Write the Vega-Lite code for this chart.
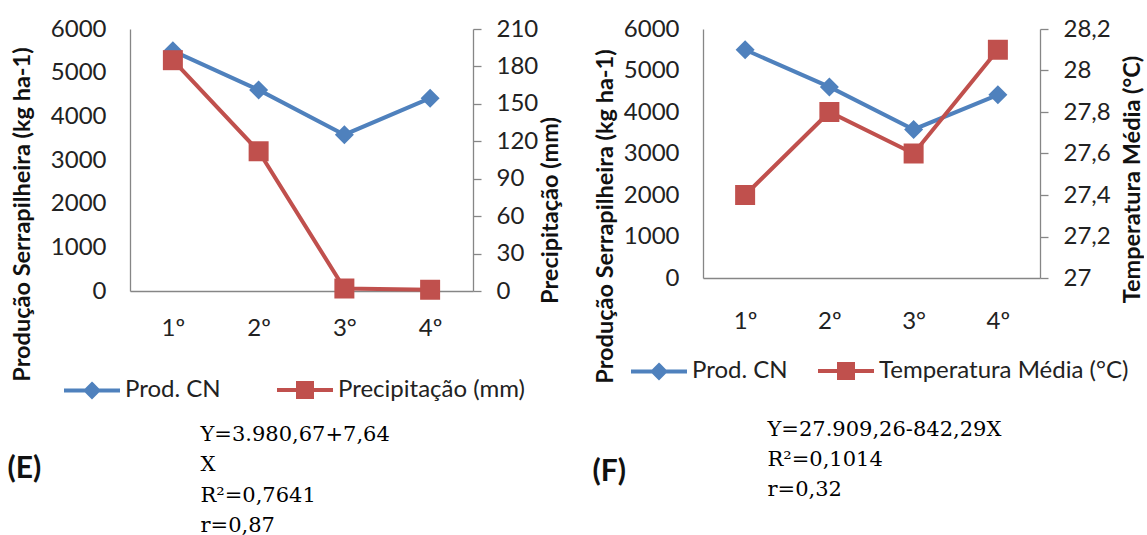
{
  "$schema": "https://vega.github.io/schema/vega-lite/v6.json",
  "background": "white",
  "padding": {"left": 7, "top": 17, "right": 0, "bottom": 0},
  "config": {
    "view": {"stroke": null},
    "font": "Lato",
    "axis": {
      "domainColor": "#868686", "domainWidth": 1.3,
      "tickColor": "#868686", "tickWidth": 1.3,
      "labelFont": "Lato", "labelFontSize": 24, "labelColor": "#222222",
      "titleFont": "Lato", "titleFontSize": 23.5, "titleFontWeight": "bold", "titleColor": "#111111",
      "grid": false, "labelFlush": false, "labelOverlap": false
    },
    "legend": {
      "orient": "none", "direction": "horizontal", "title": null,
      "labelFont": "Lato", "labelFontSize": 24, "labelColor": "#222222", "labelLimit": 0,
      "symbolSize": 3136, "labelOffset": 3, "padding": 0
    }
  },
  "datasets": {
    "E": [
      {"period": "1º", "prod": 5500, "precip": 185},
      {"period": "2º", "prod": 4605, "precip": 112},
      {"period": "3°", "prod": 3580, "precip": 2},
      {"period": "4º", "prod": 4415, "precip": 1}
    ],
    "F": [
      {"period": "1º", "prod": 5500, "temp": 27.4},
      {"period": "2º", "prod": 4605, "temp": 27.8},
      {"period": "3°", "prod": 3580, "temp": 27.6},
      {"period": "4º", "prod": 4415, "temp": 28.1}
    ]
  },
  "hconcat": [
    {
      "width": 343, "height": 262,
      "data": {"name": "E"},
      "layer": [
        {
          "mark": {"type": "line", "strokeWidth": 4, "point": {"shape": "diamond", "size": 361, "filled": true, "opacity": 1}},
          "encoding": {
            "x": {"field": "period", "type": "ordinal", "sort": null, "scale": {"type": "point", "padding": 0.5},
              "axis": {"orient": "bottom", "labelAngle": 0, "ticks": false, "tickSize": 0, "labelPadding": 25,
                "title": "(E)", "titleX": -123, "titleY": 177, "titleAlign": "left", "titleBaseline": "middle",
                "titleAngle": 0, "titleFontSize": 30, "titleFontWeight": "bold"}},
            "y": {"field": "prod", "type": "quantitative", "scale": {"domain": [0, 6000], "nice": false, "zero": true},
              "axis": {"orient": "left", "values": [0, 1000, 2000, 3000, 4000, 5000, 6000], "format": "d", "ticks": false, "tickSize": 0,
                "labelPadding": 24, "title": "Produção Serrapilheira (kg ha-1)", "titlePadding": 16, "titleY": 185}},
            "color": {"datum": "Prod. CN", "type": "nominal",
              "scale": {"domain": ["Prod. CN", "Precipitação (mm)"], "range": ["#4F81BD", "#C0504D"]},
              "legend": {"legendX": -68, "legendY": 331, "columnPadding": 48,
                "encode": {
                  "symbols": {
                    "update": {
                      "shape": {"signal": "datum.value === 'Prod. CN' ? 'M-1,0H1M0,-0.22L0.22,0L0,0.22L-0.22,0Z' : 'M-1,0H1M-0.25,-0.25H0.25V0.25H-0.25Z'"},
                      "fill": {"signal": "datum.value === 'Prod. CN' ? '#4F81BD' : '#C0504D'"},
                      "stroke": {"signal": "datum.value === 'Prod. CN' ? '#4F81BD' : '#C0504D'"},
                      "strokeWidth": {"value": 4},
                      "opacity": {"value": 1}, "fillOpacity": {"value": 1}, "strokeOpacity": {"value": 1}
                    }
                  }
                }}}
          }
        },
        {
          "mark": {"type": "line", "strokeWidth": 4, "point": {"shape": "square", "size": 400, "filled": true, "opacity": 1}},
          "encoding": {
            "x": {"field": "period", "type": "ordinal", "sort": null, "scale": {"type": "point", "padding": 0.5},
              "axis": {"orient": "top", "domain": false, "ticks": false, "labels": false,
                "title": ["Y=3.980,67+7,64", "X", "R²=0,7641", "r=0,87"],
                "titleX": 70, "titleY": 394, "titleAlign": "left", "titleBaseline": "top", "titleAngle": 0,
                "titleFont": "DejaVu Serif", "titleFontSize": 21, "titleFontWeight": "normal", "titleLineHeight": 30.5, "titleColor": "#000000"}},
            "y": {"field": "precip", "type": "quantitative", "scale": {"domain": [0, 210], "nice": false, "zero": true},
              "axis": {"orient": "right", "values": [0, 30, 60, 90, 120, 150, 180, 210], "ticks": true, "tickSize": 8,
                "labelPadding": 15, "title": "Precipitação (mm)", "titleAngle": 270, "titleBaseline": "top",
                "titlePadding": 1, "titleY": 181}},
            "color": {"datum": "Precipitação (mm)", "type": "nominal"}
          }
        }
      ],
      "resolve": {"scale": {"y": "independent"}, "axis": {"x": "independent"}}
    },
    {
      "width": 337, "height": 249,
      "data": {"name": "F"},
      "layer": [
        {
          "mark": {"type": "line", "strokeWidth": 4, "point": {"shape": "diamond", "size": 361, "filled": true, "opacity": 1}},
          "encoding": {
            "x": {"field": "period", "type": "ordinal", "sort": null, "scale": {"type": "point", "padding": 0.5},
              "axis": {"orient": "bottom", "labelAngle": 0, "ticks": false, "tickSize": 0, "labelPadding": 31,
                "title": "(F)", "titleX": -111, "titleY": 193, "titleAlign": "left", "titleBaseline": "middle",
                "titleAngle": 0, "titleFontSize": 30, "titleFontWeight": "bold"}},
            "y": {"field": "prod", "type": "quantitative", "scale": {"domain": [0, 6000], "nice": false, "zero": true},
              "axis": {"orient": "left", "values": [0, 1000, 2000, 3000, 4000, 5000, 6000], "format": "d", "ticks": false, "tickSize": 0,
                "labelPadding": 24, "title": "Produção Serrapilheira (kg ha-1)", "titlePadding": 6, "titleY": 187}},
            "color": {"datum": "Prod. CN", "type": "nominal",
              "scale": {"domain": ["Prod. CN", "Temperatura Média (°C)"], "range": ["#4F81BD", "#C0504D"]},
              "legend": {"legendX": -74, "legendY": 312, "columnPadding": 22,
                "encode": {
                  "symbols": {
                    "update": {
                      "shape": {"signal": "datum.value === 'Prod. CN' ? 'M-1,0H1M0,-0.22L0.22,0L0,0.22L-0.22,0Z' : 'M-1,0H1M-0.25,-0.25H0.25V0.25H-0.25Z'"},
                      "fill": {"signal": "datum.value === 'Prod. CN' ? '#4F81BD' : '#C0504D'"},
                      "stroke": {"signal": "datum.value === 'Prod. CN' ? '#4F81BD' : '#C0504D'"},
                      "strokeWidth": {"value": 4},
                      "opacity": {"value": 1}, "fillOpacity": {"value": 1}, "strokeOpacity": {"value": 1}
                    }
                  }
                }}}
          }
        },
        {
          "mark": {"type": "line", "strokeWidth": 4, "point": {"shape": "square", "size": 400, "filled": true, "opacity": 1}},
          "encoding": {
            "x": {"field": "period", "type": "ordinal", "sort": null, "scale": {"type": "point", "padding": 0.5},
              "axis": {"orient": "top", "domain": false, "ticks": false, "labels": false,
                "title": ["Y=27.909,26-842,29X", "R²=0,1014", "r=0,32"],
                "titleX": 64, "titleY": 389, "titleAlign": "left", "titleBaseline": "top", "titleAngle": 0,
                "titleFont": "DejaVu Serif", "titleFontSize": 21, "titleFontWeight": "normal", "titleLineHeight": 30, "titleColor": "#000000"}},
            "y": {"field": "temp", "type": "quantitative", "scale": {"domain": [27, 28.2], "nice": false, "zero": false},
              "axis": {"orient": "right", "values": [27, 27.2, 27.4, 27.6, 27.8, 28, 28.2], "ticks": true, "tickSize": 8,
                "labelPadding": 15, "labelExpr": "replace(format(datum.value, '.1~f'), '.', ',')",
                "title": "Temperatura Média (°C)", "titleAngle": 270, "titleBaseline": "top",
                "titlePadding": 10, "titleY": 150}},
            "color": {"datum": "Temperatura Média (°C)", "type": "nominal"}
          }
        }
      ],
      "resolve": {"scale": {"y": "independent"}, "axis": {"x": "independent"}}
    }
  ],
  "spacing": 230,
  "bounds": "flush",
  "resolve": {"scale": {"color": "independent"}, "legend": {"color": "independent"}}
}
